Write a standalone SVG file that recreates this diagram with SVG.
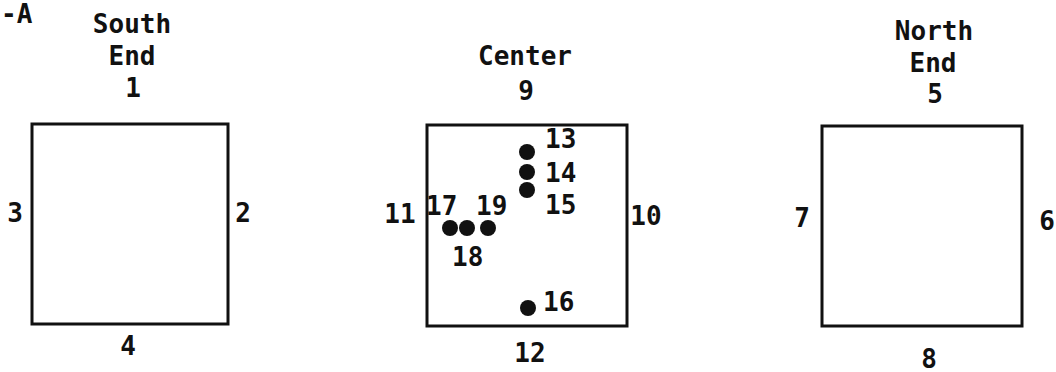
<svg xmlns="http://www.w3.org/2000/svg" width="1056" height="372" viewBox="0 0 1056 372">
<style>
text{font-family:"DejaVu Sans Mono","Liberation Mono",monospace;font-size:26px;font-weight:bold;fill:#111;text-anchor:middle}
.s{text-anchor:start}
.box{fill:none;stroke:#111;stroke-width:3}
.dot{fill:#111}
</style>
<rect width="1056" height="372" fill="#fff"/>
<text class="s" x="1" y="23">-A</text>
<g id="south">
<rect class="box" x="32" y="124" width="196" height="200"/>
<text x="132" y="33">South</text>
<text x="132" y="65">End</text>
<text x="133" y="97">1</text>
<text x="15" y="222">3</text>
<text x="243" y="222">2</text>
<text x="128" y="355">4</text>
</g>
<g id="center">
<rect class="box" x="427" y="125" width="200" height="201"/>
<text x="525" y="65">Center</text>
<text x="526" y="100">9</text>
<text x="400" y="223">11</text>
<text x="646" y="225">10</text>
<text x="530" y="362">12</text>
<circle class="dot" cx="527" cy="152" r="8"/>
<circle class="dot" cx="527" cy="172" r="8"/>
<circle class="dot" cx="527" cy="190" r="8"/>
<circle class="dot" cx="450" cy="228" r="8"/>
<circle class="dot" cx="467" cy="228" r="8"/>
<circle class="dot" cx="488" cy="228" r="8"/>
<circle class="dot" cx="528" cy="308" r="8"/>
<text class="s" x="545" y="148">13</text>
<text class="s" x="545" y="182">14</text>
<text class="s" x="545" y="214">15</text>
<text class="s" x="543" y="311">16</text>
<text class="s" x="426" y="215">17</text>
<text class="s" x="452" y="266">18</text>
<text class="s" x="476" y="215">19</text>
</g>
<g id="north">
<rect class="box" x="822" y="126" width="200" height="200"/>
<text x="934" y="40">North</text>
<text x="933" y="72">End</text>
<text x="935" y="103">5</text>
<text x="802" y="227">7</text>
<text x="1047" y="230">6</text>
<text x="929" y="368">8</text>
</g>
<g id="connectors"></g>
</svg>
